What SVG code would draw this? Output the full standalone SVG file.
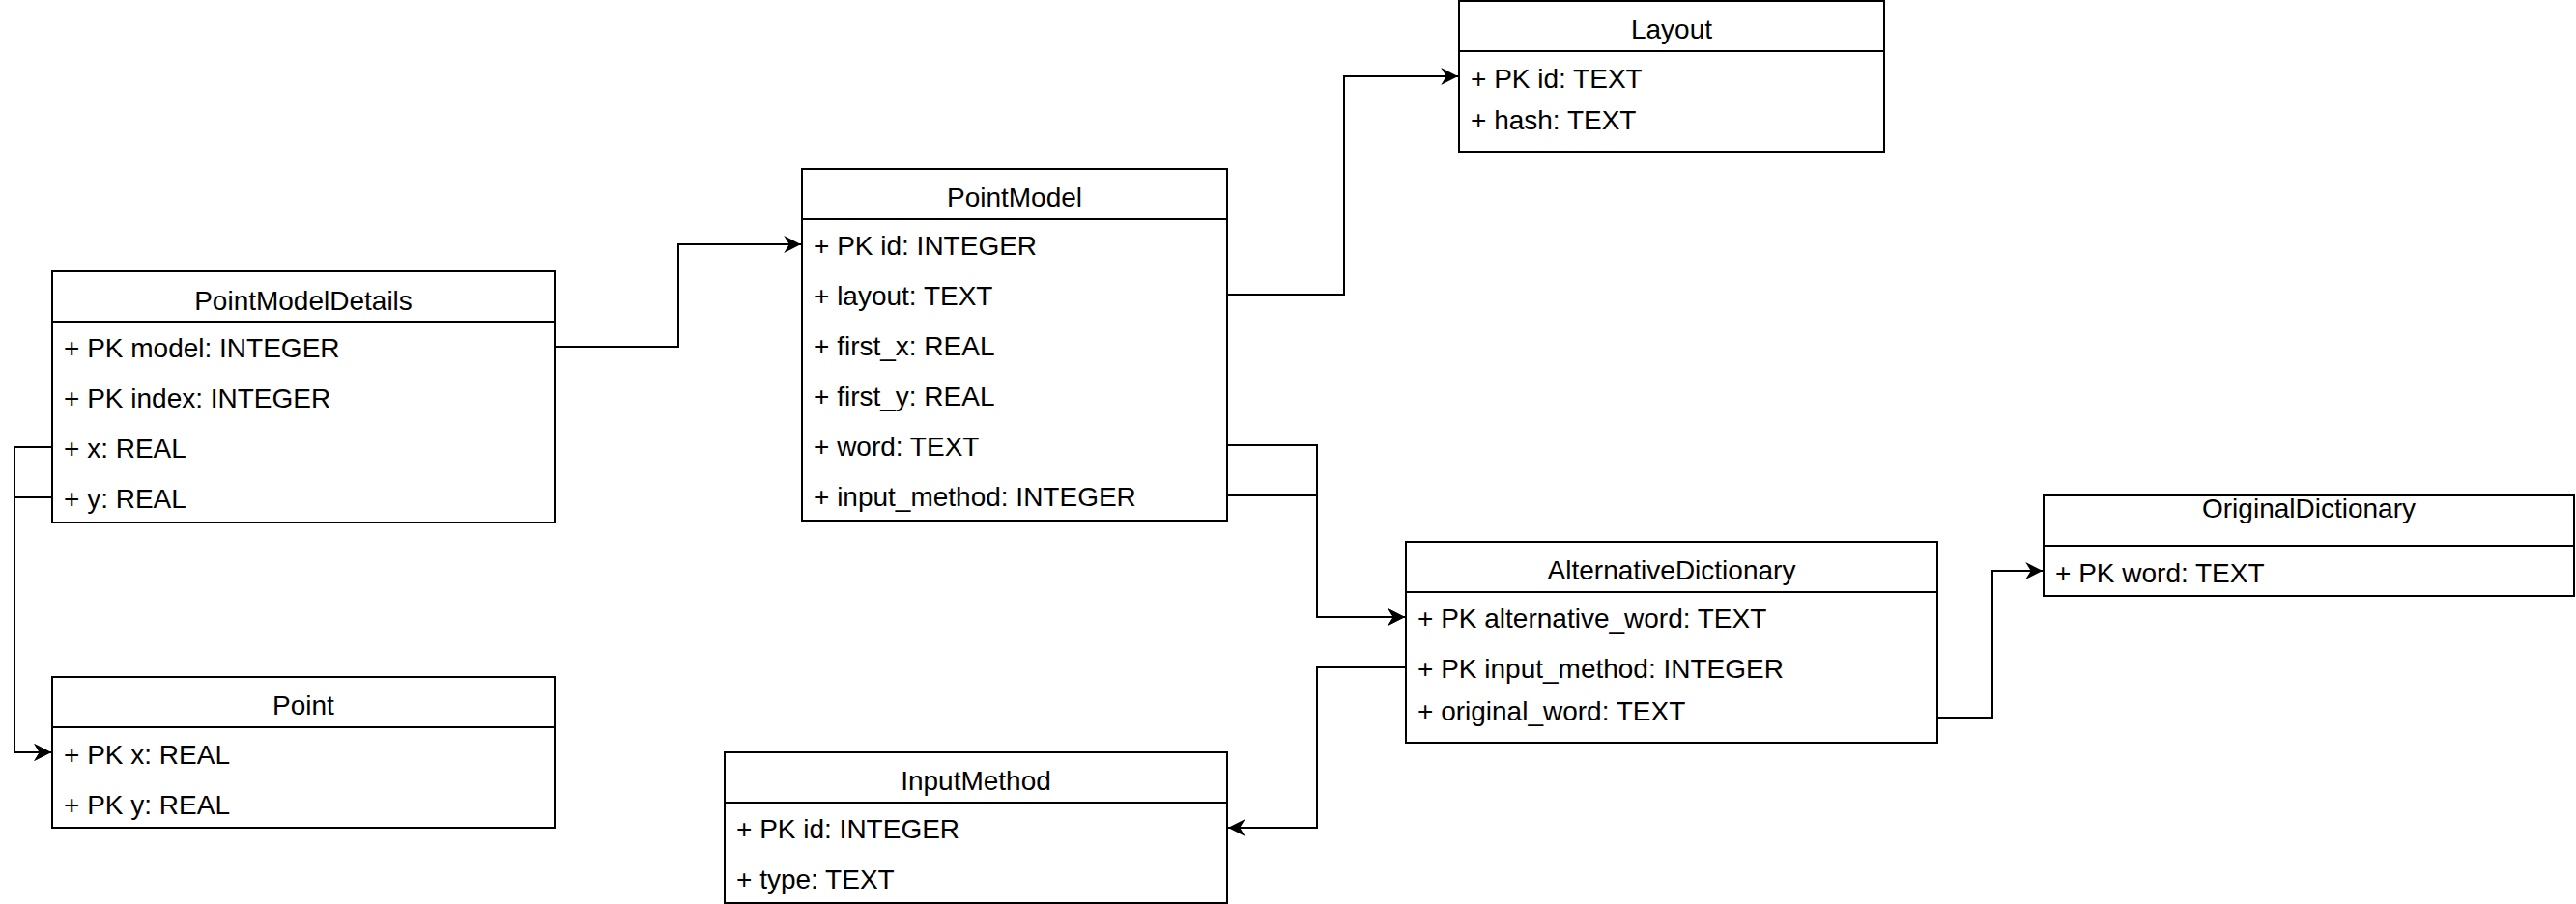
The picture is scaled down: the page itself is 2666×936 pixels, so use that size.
<svg xmlns="http://www.w3.org/2000/svg" width="2666" height="936" viewBox="0 0 2666 936">
<style>
  .box { fill: #ffffff; stroke: #000000; stroke-width: 2; }
  .sep { stroke: #000000; stroke-width: 2; fill: none; }
  .title { font-family: "Liberation Sans", Arial, sans-serif; font-size: 28px; fill: #000000; text-anchor: middle; }
  .row { font-family: "Liberation Sans", Arial, sans-serif; font-size: 28px; fill: #000000; }
  .edge { fill: none; stroke: #000000; stroke-width: 2; marker-end: url(#arrow); }
</style>
<defs>
  <marker id="arrow" markerUnits="userSpaceOnUse" markerWidth="20" markerHeight="20" viewBox="-17 -9 18 18" refX="0" refY="0" orient="auto">
    <path d="M0,0 L-16,-8 L-11,0 L-16,8 Z" fill="#000000" stroke="none"/>
  </marker>
</defs>
<rect width="2666" height="936" fill="#ffffff"/>

<g id="connectors">
  <path class="edge" d="M575,359 H702 V253 H829"/>
  <path class="edge" d="M1270,305 H1391 V79 H1509"/>
  <path class="edge" d="M1270,461 H1363 V639 H1454"/>
  <path class="edge" d="M1270,513 H1363 V639 H1454"/>
  <path class="edge" d="M1455,691 H1363 V857 H1271"/>
  <path class="edge" d="M2005,743 H2062 V591 H2114"/>
  <path class="edge" d="M54,463 H15 V779 H53"/>
  <path class="edge" d="M54,515 H15 V779 H53"/>
</g>

<g id="PointModelDetails">
  <rect class="box" x="54" y="281" width="520" height="260"/>
  <line class="sep" x1="54" y1="333" x2="574" y2="333"/>
  <text class="title" x="314" y="321">PointModelDetails</text>
  <text class="row" x="66" y="370">+ PK model: INTEGER</text>
  <text class="row" x="66" y="422">+ PK index: INTEGER</text>
  <text class="row" x="66" y="474">+ x: REAL</text>
  <text class="row" x="66" y="526">+ y: REAL</text>
</g>

<g id="PointModel">
  <rect class="box" x="830" y="175" width="440" height="364"/>
  <line class="sep" x1="830" y1="227" x2="1270" y2="227"/>
  <text class="title" x="1050" y="214">PointModel</text>
  <text class="row" x="842" y="264">+ PK id: INTEGER</text>
  <text class="row" x="842" y="316">+ layout: TEXT</text>
  <text class="row" x="842" y="368">+ first_x: REAL</text>
  <text class="row" x="842" y="420">+ first_y: REAL</text>
  <text class="row" x="842" y="472">+ word: TEXT</text>
  <text class="row" x="842" y="524">+ input_method: INTEGER</text>
</g>

<g id="Layout">
  <rect class="box" x="1510" y="1" width="440" height="156"/>
  <line class="sep" x1="1510" y1="53" x2="1950" y2="53"/>
  <text class="title" x="1730" y="40">Layout</text>
  <text class="row" x="1522" y="91">+ PK id: TEXT</text>
  <text class="row" x="1522" y="134">+ hash: TEXT</text>
</g>

<g id="AlternativeDictionary">
  <rect class="box" x="1455" y="561" width="550" height="208"/>
  <line class="sep" x1="1455" y1="613" x2="2005" y2="613"/>
  <text class="title" x="1730" y="600">AlternativeDictionary</text>
  <text class="row" x="1467" y="650">+ PK alternative_word: TEXT</text>
  <text class="row" x="1467" y="702">+ PK input_method: INTEGER</text>
  <text class="row" x="1467" y="746">+ original_word: TEXT</text>
</g>

<g id="OriginalDictionary">
  <rect class="box" x="2115" y="513" width="549" height="104"/>
  <line class="sep" x1="2115" y1="565" x2="2664" y2="565"/>
  <text class="title" x="2389.5" y="536">OriginalDictionary</text>
  <text class="row" x="2127" y="603">+ PK word: TEXT</text>
</g>

<g id="Point">
  <rect class="box" x="54" y="701" width="520" height="156"/>
  <line class="sep" x1="54" y1="753" x2="574" y2="753"/>
  <text class="title" x="314" y="740">Point</text>
  <text class="row" x="66" y="791">+ PK x: REAL</text>
  <text class="row" x="66" y="843">+ PK y: REAL</text>
</g>

<g id="InputMethod">
  <rect class="box" x="750" y="779" width="520" height="156"/>
  <line class="sep" x1="750" y1="831" x2="1270" y2="831"/>
  <text class="title" x="1010" y="818">InputMethod</text>
  <text class="row" x="762" y="868">+ PK id: INTEGER</text>
  <text class="row" x="762" y="920">+ type: TEXT</text>
</g>
</svg>
